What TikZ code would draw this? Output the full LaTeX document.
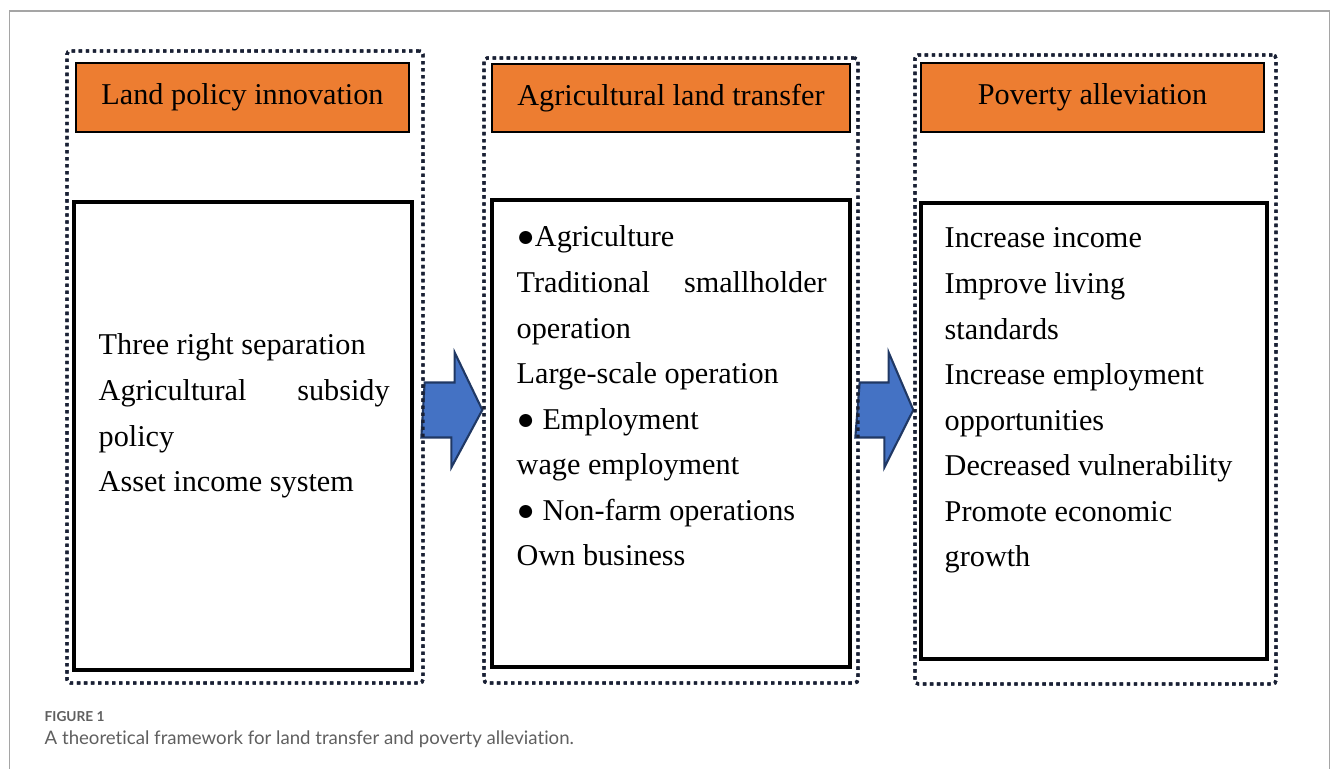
\documentclass[tikz,border=0pt]{standalone}
\usepackage{fontspec}
\setmainfont{Liberation Serif}
\newfontfamily\capfont[Ligatures=NoCommon]{Lato}
\usetikzlibrary{positioning}
\definecolor{headfill}{RGB}{237,125,49}
\definecolor{arrowfill}{RGB}{68,114,196}
\definecolor{arrowline}{RGB}{32,56,100}
\definecolor{framedot}{RGB}{25,32,52}
\definecolor{pagerule}{RGB}{165,165,165}
\definecolor{capgray}{RGB}{95,95,95}
\newcommand\bodyfont{\fontsize{8.6}{12.95}\selectfont}

\begin{document}
\begin{tikzpicture}[
    frame/.style={draw=framedot, line width=0.95pt, dash pattern=on 0.95pt off 1.05pt, rounded corners=1pt, inner sep=0pt},
    head/.style={draw=black, line width=0.6pt, fill=headfill, inner sep=0pt, font=\bodyfont},
    content/.style={draw=black, line width=0.9pt, inner sep=0pt},
    items/.style={anchor=base west, inner sep=0pt, align=flush left, font=\bodyfont},
    blockarrow/.style={fill=arrowfill, draw=arrowline, line width=0.6pt, line join=miter},
    caption/.style={anchor=base west, inner sep=0pt, text=capgray}
  ]
  \useasboundingbox (0,0) rectangle (13.33,7.69);
  % page rule
  \draw[pagerule, line width=0.3pt] (0.095,0) -- (0.095,7.58) -- (13.295,7.58) -- (13.295,0);

  % the three stages
  \node[frame, minimum width=3.56cm, minimum height=6.32cm] (land) at (2.45,4.02) {};
  \node[frame, minimum width=3.74cm, minimum height=6.25cm] (transfer) at (6.71,3.985) {};
  \node[frame, minimum width=3.61cm, minimum height=6.29cm] (poverty) at (10.955,3.995) {};

  % block arrows between stages
  \coordinate (mid) at (0,3.59);
  \filldraw[blockarrow] (land.east |- mid) ++(0,0.275) -- ++(0.30,0) -- ++(0,0.30)
    -- (transfer.west |- mid) -- ++(-0.31,-0.575) -- ++(0,0.30) -- ++(-0.30,0) -- cycle;
  \filldraw[blockarrow] (transfer.east |- mid) ++(0,0.275) -- ++(0.29,0) -- ++(0,0.30)
    -- (poverty.west |- mid) -- ++(-0.29,-0.575) -- ++(0,0.30) -- ++(-0.29,0) -- cycle;
  % redraw the dots on top
  \node[frame, minimum width=3.56cm, minimum height=6.32cm] at (land) {};
  \node[frame, minimum width=3.74cm, minimum height=6.25cm] at (transfer) {};
  \node[frame, minimum width=3.61cm, minimum height=6.29cm] at (poverty) {};

  % headers
  \node[head, minimum width=3.33cm, minimum height=0.69cm] (landhead) at (2.425,6.715) {Land policy innovation};
  \node[head, minimum width=3.58cm, minimum height=0.68cm] (transferhead) at (6.71,6.71) {Agricultural land transfer};
  \node[head, minimum width=3.43cm, minimum height=0.69cm] (povertyhead) at (10.925,6.715) {Poverty alleviation};

  % contents
  \node[content, minimum width=3.38cm, minimum height=4.68cm] (landbox) at (2.43,3.33) {};
  \node[content, minimum width=3.58cm, minimum height=4.67cm] (transferbox) at (6.71,3.355) {};
  \node[content, minimum width=3.46cm, minimum height=4.56cm] (povertybox) at (10.94,3.38) {};

  \node[items, text width=2.91cm] (landtext) at (0.98,4.14)
    {Three right separation\\ Agricultural\hfill subsidy\\ policy\\ Asset income system};
  \node[items, text width=3.10cm] (transfertext) at (5.16,5.22)
    {●Agriculture\\ Traditional\hfill smallholder\\ operation\\ Large-scale operation\\
     ● Employment\\ wage employment\\ ● Non-farm operations\\ Own business};
  \node[items, text width=3.00cm] (povertytext) at (9.44,5.21)
    {Increase income\\ Improve living\\ standards\\ Increase employment\\
     opportunities\\ Decreased vulnerability\\ Promote economic\\ growth};

  % caption
  \node[caption, font=\capfont\bfseries\fontsize{3.9}{4.5}\selectfont] (figlabel) at (0.44,0.47) {FIGURE 1};
  \node[caption, font=\capfont\fontsize{5.3}{6.5}\selectfont] (figtext) at (0.44,0.24)
    {A theoretical framework for land transfer and poverty alleviation.};
\end{tikzpicture}
\end{document}
